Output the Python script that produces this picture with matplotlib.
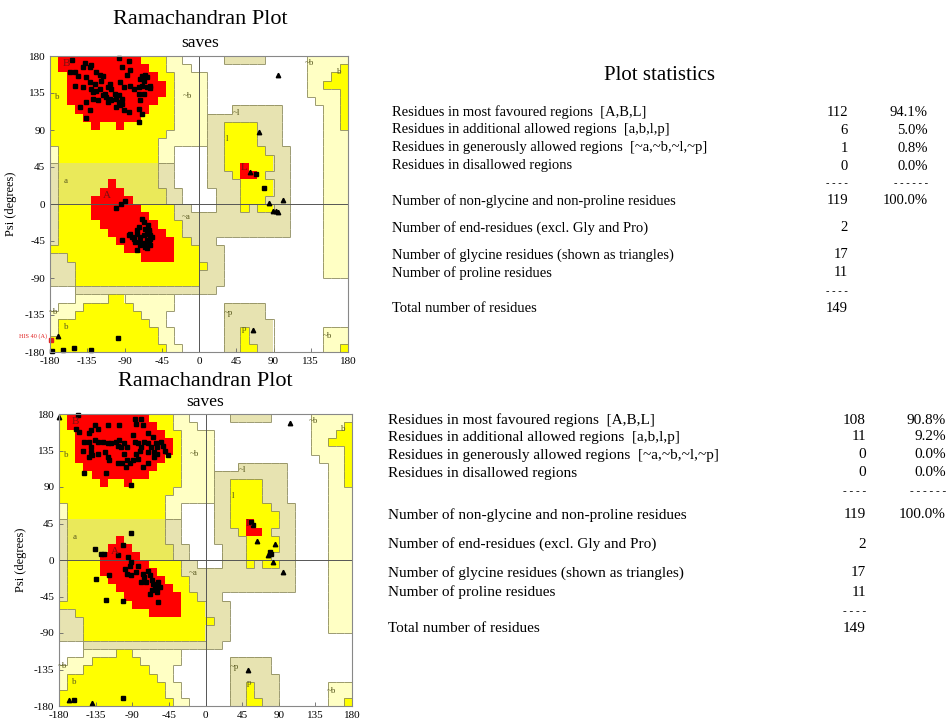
import numpy as np
import matplotlib.pyplot as plt
from matplotlib.colors import ListedColormap
from matplotlib.collections import LineCollection

plt.rcParams['font.family'] = ['Liberation Serif', 'DejaVu Serif']
plt.rcParams['axes.unicode_minus'] = False

W, H = 948, 719

# Region map in 10 degree cells: rows psi 180 -> -180, columns phi -180 -> 180
# . disallowed, P pale (~b), K khaki (~a ~l ~p), Y allowed, T allowed (a band), R core
region_rows = [
    "Y" + "R" * 10 + "YYY" + "PP" + ".." + "..." + "KKKKK" + "....." + "PPPPP",
    "Y" + "R" * 11 + "YY" + "PPP" + "." + "." * 13 + "PPPP" + "Y",
    "YY" + "R" * 11 + "YY" + "PPPP" + "." * 12 + "PPP" + "YY",
    "YY" + "R" * 12 + "Y" + "PPPP" + "." * 12 + "PP" + "YYY",
    "YY" + "R" * 12 + "Y" + "PPPP" + "." * 12 + "PPPP" + "Y",
    "YY" + "R" * 11 + "YY" + "PPPP" + "." * 13 + "PPP" + "Y",
    "YYY" + "R" * 9 + "YYY" + "PPPP" + "..." + "KKKKKK" + "....." + "PP" + "Y",
    "YYYY" + "R" * 7 + "YYYY" + "PPPP" + "K" * 9 + "....." + "PP" + "Y",
    "YYYYY" + "R" + "YY" + "R" + "YYYYYY" + "PPPP" + "KK" + "YYYY" + "KKK" + "....." + "PP" + "Y",
    "Y" * 14 + "P" * 5 + "KK" + "YYYY" + "KKK" + "....." + "PPP",
    "Y" * 13 + "P" * 6 + "KK" + "YYYY" + "KKK" + "....." + "PPP",
    "P" + "Y" * 12 + "PP" + "...." + "KK" + "YYYYY" + "KKK" + "...." + "PPP",
    "P" + "Y" * 12 + "PP" + "...." + "KK" + "Y" * 6 + "KK" + "...." + "PPP",
    "K" + "T" * 12 + "KK" + "...." + "KK" + "YY" + "R" + "YYY" + "KK" + "...." + "PPP",
    "K" + "T" * 12 + "KK" + "...." + "KKK" + "Y" + "RR" + "Y" + "KKK" + "...." + "PPP",
    "K" + "T" * 6 + "R" + "T" * 5 + "KK" + "...." + "KKKK" + "YYYY" + "KK" + "...." + "PPP",
    "K" + "T" * 5 + "RRR" + "T" * 5 + "KK" + "...." + "KKK" + "YYYY" + "KK" + "...." + "PPP",
    "K" + "TTTT" + "RRRRR" + "TTTT" + "KK" + "...." + "KKK" + "YYY" + "KKK" + "...." + "PPP",
    "K" + "YYYY" + "R" * 6 + "YYYY" + "KK" + "..." + "KKK" + "Y" + "K" + "YY" + "KK" + "...." + "PPP",
    "K" + "YYYY" + "R" * 7 + "YYY" + "KKK" + "KK" + "K" * 9 + "...." + "PPP",
    "K" + "Y" * 5 + "R" * 7 + "YYY" + "KK" + "KK" + "K" * 9 + "...." + "PPP",
    "K" + "Y" * 6 + "R" * 7 + "YY" + "KK" + "KK" + "K" * 9 + "...." + "PPP",
    "K" + "Y" * 7 + "R" * 7 + "YY" + "K" + "KK" + "." * 13 + "PPP",
    "YY" + "Y" * 7 + "R" * 6 + "YY" + "Y" + "KKK" + "." * 12 + "PPP",
    "KK" + "Y" * 9 + "RRRR" + "YYY" + "KKK" + "." * 12 + "PPP",
    "KKK" + "Y" * 15 + "Y" + "KK" + "." * 12 + "PPP",
    "KKK" + "Y" * 15 + "KKK" + "." * 12 + "PPP",
    "KKK" + "Y" * 15 + "KKK" + "." * 15,
    "..." + "K" * 17 + "." * 16,
    "..." + "PPPP" + "YY" + "PPPPPP" + "." * 21,
    "." + "PPP" + "Y" * 6 + "PPPPP" + "......" + "KKKKK" + "." * 10,
    "PPP" + "Y" * 8 + "PPP" + "." * 7 + "KKKKK" + "." * 10,
    "P" + "Y" * 11 + "PP" + "." * 7 + "K" * 6 + "." * 9,
    "P" + "Y" * 12 + "PP" + "." * 6 + "KK" + "Y" + "KKK" + "." * 6 + "PPP",
    "Y" * 13 + "PP" + "." * 6 + "KK" + "Y" + "KKK" + "." * 6 + "PPP",
    "Y" * 14 + "PP" + "." * 5 + "KK" + "YY" + "KK" + "." * 6 + "PP" + "Y",
]
region_codes = ".PKYTR"
region_colors = ["#FFFFFF", "#FFFFC4", "#E7E3B1", "#FFFF00", "#EAE95A", "#FF0000"]

region_labels = ["B", "b", "a", "A", "L", "l", "~l", "~b", "~a", "~p", "p", "~b", "b", "~b", "b", "~b"]
label_phi = [-160, -171, -161, -111, 54, 34, 45, -14, -15, 35, 54, 133, 169, -176, -161, 155]
label_psi = [171, 130, 28, 10, 45, 79, 111, 131, -16, -132, -152, 171, 161, -131, -150, -161]

# top plot (first model)
top_sq_phi = [-154, -138, -140, -132, -130, -156, -150, -146, -136, -124, -120, -116, -97, -85, -93, -83,
              -87, -69, -65, -63, -67, -71, -132, -126, -118, -108, -110, -106, -95, -91, -83, -73,
              -69, -63, -59, -67, -73, -79, -150, -140, -130, -128, -124, -120, -114, -112, -108, -110,
              -116, -102, -100, -97, -95, -93, -100, -91, -85, -106, -97, -93, -144, -136, -128, -122,
              -132, -136, -71, -73, -69, -73, -59,
              -100, -94, -89, -69, -67, -72, -75, -65, -62, -60, -63, -59, -57, -67, -71, -75,
              -83, -81, -79, -84, -93, -77, -71, -67, -63, -61, -59, -65, -63, -59, -71, -75, -61,
              69, 78, -98, -164, -151, -131, -178]
top_sq_psi = [175, 172, 167, 167, 169, 161, 161, 156, 154, 161, 157, 156, 177, 174, 167, 163,
              157, 156, 157, 154, 150, 152, 148, 146, 150, 146, 142, 140, 148, 142, 144, 142,
              144, 142, 144, 134, 134, 140, 144, 142, 140, 136, 138, 140, 134, 130, 128, 124,
              132, 134, 128, 124, 120, 122, 118, 114, 112, 126, 132, 128, 118, 124, 128, 126,
              114, 104, 126, 116, 110, 100, 141,
              -5, 0, 4, -18, -22, -28, -32, -30, -26, -34, -36, -38, -40, -38, -40, -37,
              -36, -40, -42, -38, -44, -46, -46, -48, -44, -46, -42, -52, -54, -50, -50, -56, -32,
              37, 19, -163, -177, -175, -177, -179]
top_tri_phi = [95, 72, 62, 85, 101, 89, 93, 96, 65, -170]
top_tri_psi = [157, 88, 39, 1, 5, -9, -8, -10, -153, -161]
top_flag_phi = [-179]
top_flag_psi = [-166]
top_flag_text = ["HIS 40 (A)"]

# bottom plot (second model)
bot_sq_phi = [-157, -159, -155, -136, -141, -143, -132, -120, -106, -87, -85, -79, -77, -71, -65, -89,
              -149, -143, -136, -132, -126, -120, -116, -110, -108, -106, -104, -100, -96, -87, -83, -79,
              -75, -71, -67, -61, -59, -55, -52, -50, -46, -63, -71, -81, -85, -151, -141, -139,
              -143, -132, -124, -120, -118, -100, -96, -93, -89, -83, -102, -98, -108, -77, -71, -149,
              -122, -141, -63, -59, -92,
              -91, -136, -128, -125, -101, -107, -95, -91, -93, -83, -118, -99, -97, -91, -85, -77,
              -71, -68, -75, -79, -73, -66, -64, -60, -58, -62, -66, -60, -56, -68, -58, -134,
              -122, -101, -60,
              56, 58, 79, 80, -161, -101]
bot_sq_psi = [179, 162, 158, 166, 160, 156, 162, 166, 166, 174, 168, 174, 166, 156, 152, 154,
              146, 146, 148, 146, 146, 144, 144, 146, 141, 148, 139, 144, 139, 146, 144, 139,
              146, 144, 139, 144, 139, 146, 141, 135, 129, 133, 133, 135, 131, 135, 133, 129,
              127, 131, 133, 127, 123, 131, 123, 119, 123, 125, 119, 115, 119, 115, 119, 107,
              107, 139, 127, 131, 92,
              33, 14, 8, 8, 19, 6, 4, -3, -7, -7, -19, -11, -17, -19, -15, -17,
              -13, -19, -21, -27, -27, -25, -29, -31, -27, -33, -37, -35, -33, -42, -52, -24,
              -49, -51, -40,
              47, 43, 10, 7, -173, -170]
bot_tri_phi = [-180, 104, 63, 85, 77, 83, 95, 52, -168, -139]
bot_tri_psi = [176, 169, 24, 20, 6, -3, -15, -136, -172, -176]

# statistics panels
stat_labels = ["Residues in most favoured regions  [A,B,L]",
               "Residues in additional allowed regions  [a,b,l,p]",
               "Residues in generously allowed regions  [~a,~b,~l,~p]",
               "Residues in disallowed regions",
               "Number of non-glycine and non-proline residues",
               "Number of end-residues (excl. Gly and Pro)",
               "Number of glycine residues (shown as triangles)",
               "Number of proline residues",
               "Total number of residues"]
top_counts = ["112", "6", "1", "0", "119", "2", "17", "11", "149"]
top_pcts = ["94.1%", "5.0%", "0.8%", "0.0%", "100.0%", "", "", "", ""]
bot_counts = ["108", "11", "0", "0", "119", "2", "17", "11", "149"]
bot_pcts = ["90.8%", "9.2%", "0.0%", "0.0%", "100.0%", "", "", "", ""]


def px(x, y):
    return x / W, 1 - y / H


def rama(rect, sq_phi, sq_psi, tri_phi, tri_psi, flags=None):
    ax = fig.add_axes(rect)
    grid = np.array([[region_codes.index(ch) for ch in row] for row in region_rows])
    ax.imshow(grid, cmap=ListedColormap(region_colors), vmin=-0.5, vmax=5.5,
              extent=(-180, 180, -180, 180), origin='upper', interpolation='nearest', aspect='auto')
    # outlines between region classes (not round the core)
    segs = []
    n = grid.shape[0]
    for r in range(n):
        for c in range(n):
            a = grid[r, c]
            if c < n - 1:
                b = grid[r, c + 1]
                if a != b and 5 not in (a, b) and {a, b} != {3, 4}:
                    x = -170 + 10 * c
                    segs.append([(x, 180 - 10 * r), (x, 170 - 10 * r)])
            if r < n - 1:
                b = grid[r + 1, c]
                if a != b and 5 not in (a, b) and {a, b} != {3, 4}:
                    y = 170 - 10 * r
                    segs.append([(-180 + 10 * c, y), (-170 + 10 * c, y)])
    ax.add_collection(LineCollection(segs, colors='#8c8a5c', linewidths=0.6))
    ax.axhline(0, color='#555555', lw=0.7)
    ax.axvline(0, color='#555555', lw=0.7)
    for t, ph, ps in zip(region_labels, label_phi, label_psi):
        big = t in ("A", "B", "L")
        ax.text(ph, ps, t, fontsize=8 if big else 6.5, color='#7a1010' if big else '#5a5a20',
                ha='center', va='center')
    ax.plot(sq_phi, sq_psi, 's', color='black', ms=3.1, clip_on=False)
    ax.plot(tri_phi, tri_psi, '^', color='black', ms=3.2, clip_on=False)
    if flags:
        for ph, ps, t in zip(*flags):
            ax.plot(ph, ps, 's', color='#e02020', ms=3.1, clip_on=False)
            ax.text(ph - 4, ps + 5, t, fontsize=4.5, color='#e02020', ha='right', va='center')
    ax.set_xlim(-180, 180)
    ax.set_ylim(-180, 180)
    ticks = [-180, -135, -90, -45, 0, 45, 90, 135, 180]
    ax.set_xticks(ticks)
    ax.set_yticks(ticks)
    ax.tick_params(labelsize=8, direction='in', length=3, width=0.6, color='#666666')
    for s in ax.spines.values():
        s.set_color('#888888')
        s.set_linewidth(0.8)
    ax.set_ylabel("Psi (degrees)", fontsize=9)
    ax.yaxis.set_label_coords(-0.11, 0.5)
    return ax


fig = plt.figure(figsize=(W / 100, H / 100), dpi=100)

rama([50 / W, 1 - 352 / H, 298 / W, 296 / H], top_sq_phi, top_sq_psi, top_tri_phi, top_tri_psi,
     (top_flag_phi, top_flag_psi, top_flag_text))
rama([59 / W, 1 - 706 / H, 293 / W, 292 / H], bot_sq_phi, bot_sq_psi, bot_tri_phi, bot_tri_psi)

fig.text(*px(200, 20), "Ramachandran Plot", fontsize=16, ha='center', va='center')
fig.text(*px(200, 43), "saves", fontsize=12.5, ha='center', va='center')
fig.text(*px(205, 381), "Ramachandran Plot", fontsize=16, ha='center', va='center')
fig.text(*px(205, 402), "saves", fontsize=12.5, ha='center', va='center')

fig.text(*px(660, 76), "Plot statistics", fontsize=15, ha='center', va='center')


def stats(rows_y, dash_y, counts, pcts, x0, xc, xp, fs):
    for y, lab, cnt, pct in zip(rows_y, stat_labels, counts, pcts):
        fig.text(*px(x0, y), lab, fontsize=fs, ha='left', va='center')
        fig.text(*px(xc, y), cnt, fontsize=fs, ha='right', va='center')
        if pct:
            fig.text(*px(xp, y), pct, fontsize=fs, ha='right', va='center')
    fig.text(*px(xc, dash_y[0]), "- - - -", fontsize=fs - 3, ha='right', va='center')
    fig.text(*px(xp, dash_y[0]), "- - - - - -", fontsize=fs - 3, ha='right', va='center')
    fig.text(*px(xc, dash_y[1]), "- - - -", fontsize=fs - 3, ha='right', va='center')


stats([112, 130, 148, 166, 201, 228, 255, 273, 309], [184, 291], top_counts, top_pcts, 392, 848, 928, 10.5)
stats([420, 437, 455, 473, 515, 544, 573, 592, 629], [492, 612], bot_counts, bot_pcts, 388, 866, 946, 11)

fig.savefig("out.png", dpi=100)
